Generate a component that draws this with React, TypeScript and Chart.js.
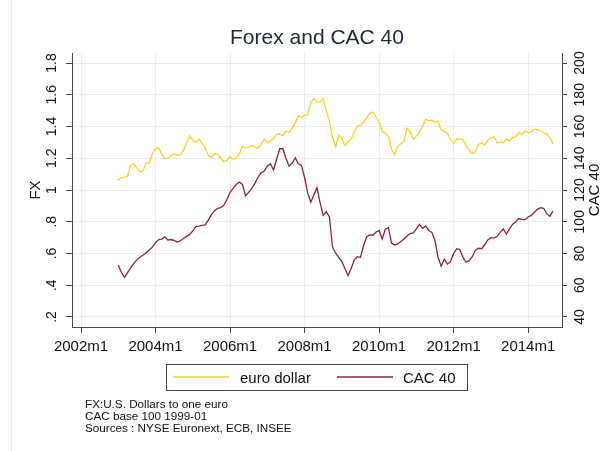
import React, { useEffect, useRef } from "react";
import { Chart, registerables } from "chart.js";

Chart.register(...registerables);

// Months are counted from 2002m1 (= 0). Data starts 2003m1.
const startMonth = 12;

const fxValues = [
  1.0622, 1.0773, 1.0807, 1.0848, 1.1582, 1.1663, 1.1372, 1.1139, 1.1222, 1.1692, 1.1702, 1.2286,
  1.2613, 1.2646, 1.2262, 1.1985, 1.2007, 1.2138, 1.2266, 1.2176, 1.2218, 1.249, 1.2991, 1.3408,
  1.3119, 1.3014, 1.3201, 1.2938, 1.2694, 1.2165, 1.2037, 1.2292, 1.2256, 1.2015, 1.1786, 1.1856,
  1.2103, 1.1938, 1.202, 1.2271, 1.277, 1.265, 1.2684, 1.2811, 1.2727, 1.2611, 1.2881, 1.3213,
  1.2999, 1.3074, 1.3242, 1.3516, 1.3511, 1.3419, 1.3716, 1.3622, 1.3896, 1.4227, 1.4684, 1.457,
  1.4718, 1.4748, 1.5527, 1.5751, 1.5557, 1.5553, 1.577, 1.4975, 1.437, 1.3322, 1.2732, 1.3449,
  1.3239, 1.2785, 1.305, 1.319, 1.365, 1.4016, 1.4088, 1.4268, 1.4562, 1.4816, 1.4914, 1.4614,
  1.4272, 1.3686, 1.3569, 1.3406, 1.2565, 1.2209, 1.277, 1.2894, 1.3067, 1.3898, 1.3661, 1.322,
  1.336, 1.3649, 1.3999, 1.4442, 1.4349, 1.4388, 1.4264, 1.4343, 1.377, 1.3706, 1.3556, 1.3179,
  1.2905, 1.3224, 1.3201, 1.3162, 1.2789, 1.2526, 1.2288, 1.24, 1.2856, 1.2974, 1.2828, 1.3119,
  1.3288, 1.3359, 1.2964, 1.3026, 1.2982, 1.3189, 1.308, 1.331, 1.3348, 1.3635, 1.3493, 1.3704,
  1.361, 1.3659, 1.3823, 1.3813, 1.3732, 1.3592, 1.3539, 1.3316, 1.2901,
];

const cacValues = [
  72.8, 68, 65, 68, 71, 73.8, 76, 77.7, 79, 80.5, 82.3, 84,
  86.8, 88.8, 89.1, 90.5, 88.5, 88.8, 88.3, 87.2, 88, 89.5, 90.8, 92,
  94.3, 97, 97.3, 97.7, 98, 101, 104.5, 107, 108.5, 108.9, 110.3, 114,
  118.5, 121, 123.5, 125, 123.5, 116.4, 118.5, 121, 124.2, 128, 130.8, 132,
  135, 136.5, 132.6, 139.5, 146, 146, 140, 135, 137, 140.3, 136.5, 135.4,
  128, 118, 112.3, 117, 121.5, 112, 104, 106.4, 103, 84, 80.2, 77.5,
  75, 70.5, 66, 70.5, 76, 78, 77.6, 85, 90.6, 91.7, 91.5, 93.5,
  94.5, 89.2, 95.3, 96.3, 86.5, 85.4, 86, 87.5, 89.2, 91, 92.5, 93,
  95.5, 98.4, 95.8, 97.3, 94.5, 93.3, 88, 77.5, 72, 76.5, 73.3, 74.9,
  80, 83, 82.5, 77.5, 74.5, 75.5, 78, 82, 83.3, 83, 85.5, 88.5,
  90, 89.7, 90.8, 93.3, 95.5, 92.3, 95.5, 98.5, 100, 102, 101.5, 101.3,
  103, 104, 106, 107.8, 108.8, 108.5, 105, 103.5, 106.8,
];

const xTickValues = [0, 24, 48, 72, 96, 120, 144];
const xTickLabels = ["2002m1", "2004m1", "2006m1", "2008m1", "2010m1", "2012m1", "2014m1"];
const fxTickValues = [0.2, 0.4, 0.6, 0.8, 1, 1.2, 1.4, 1.6, 1.8];
const fxTickLabels = [".2", ".4", ".6", ".8", "1", "1.2", "1.4", "1.6", "1.8"];
const cacTickValues = [40, 60, 80, 100, 120, 140, 160, 180, 200];
const cacTickLabels = ["40", "60", "80", "100", "120", "140", "160", "180", "200"];

const titleText = "Forex and CAC 40";
const legendLabels = ["euro dollar", "CAC 40"];
const noteLines = ["FX:U.S. Dollars to one euro", "CAC base 100 1999-01", "Sources : NYSE Euronext, ECB, INSEE"];

const FONT = '"Liberation Sans", Arial, sans-serif';
const YELLOW = "#FFD21A";
const MAROON = "#8E2436";
const GRID = "#E8EFF1";
const AXIS = "#4a4a4a";

export default function App() {
  const ref = useRef<HTMLCanvasElement>(null);

  useEffect(() => {
    const canvas = ref.current;
    if (!canvas) return;

    const decor = {
      id: "decor",
      beforeDraw(chart: any) {
        const ctx = chart.ctx as CanvasRenderingContext2D;
        ctx.save();
        ctx.fillStyle = "#ebebeb";
        ctx.fillRect(11, 0, 1, chart.height);
        ctx.restore();
      },
      afterDraw(chart: any) {
        const ctx = chart.ctx as CanvasRenderingContext2D;
        const yS = chart.scales.y;
        const y1S = chart.scales.y1;
        const area = chart.chartArea;
        ctx.save();
        ctx.fillStyle = "#111";
        ctx.textAlign = "center";
        ctx.textBaseline = "middle";
        ctx.font = `14px ${FONT}`;
        const rot = (text: string, x: number, y: number) => {
          ctx.save();
          ctx.translate(x, y);
          ctx.rotate(-Math.PI / 2);
          ctx.fillText(text, 0, 0);
          ctx.restore();
        };
        fxTickValues.forEach((v, i) => rot(fxTickLabels[i], 52.5, yS.getPixelForValue(v)));
        cacTickValues.forEach((v, i) => rot(cacTickLabels[i], 580.5, y1S.getPixelForValue(v)));
        ctx.font = `15px ${FONT}`;
        const midY = (area.top + area.bottom) / 2;
        rot("FX", 35.5, midY);
        rot("CAC 40", 595, midY);

        // title
        ctx.fillStyle = "#1e2a3a";
        ctx.font = `21px ${FONT}`;
        ctx.fillText(titleText, (area.left + area.right) / 2, 38);

        // legend
        ctx.strokeStyle = AXIS;
        ctx.lineWidth = 1;
        ctx.strokeRect(166.5, 364.5, 301, 26);
        ctx.lineWidth = 1.3;
        ctx.strokeStyle = YELLOW;
        ctx.beginPath();
        ctx.moveTo(173, 377);
        ctx.lineTo(229, 377);
        ctx.stroke();
        ctx.strokeStyle = MAROON;
        ctx.beginPath();
        ctx.moveTo(337, 377);
        ctx.lineTo(393, 377);
        ctx.stroke();
        ctx.fillStyle = "#111";
        ctx.font = `15px ${FONT}`;
        ctx.textAlign = "left";
        ctx.textBaseline = "alphabetic";
        ctx.fillText(legendLabels[0], 240, 383);
        ctx.fillText(legendLabels[1], 403, 383);

        // notes
        ctx.font = `11.7px ${FONT}`;
        noteLines.forEach((t, i) => ctx.fillText(t, 85, 407.8 + i * 12.3));
        ctx.restore();
      },
    };

    const chart = new Chart(canvas, {
      type: "line",
      data: {
        datasets: [
          {
            label: legendLabels[0],
            data: fxValues.map((v, i) => ({ x: startMonth + i, y: v })),
            borderColor: YELLOW,
            borderWidth: 1.3,
            pointRadius: 0,
            tension: 0,
            yAxisID: "y",
            order: 2,
          },
          {
            label: legendLabels[1],
            data: cacValues.map((v, i) => ({ x: startMonth + i, y: v })),
            borderColor: MAROON,
            borderWidth: 1.3,
            pointRadius: 0,
            tension: 0,
            yAxisID: "y1",
            order: 1,
          },
        ],
      },
      options: {
        animation: false,
        responsive: false,
        devicePixelRatio: 1,
        layout: { padding: { top: 53, bottom: 84, left: 0, right: 0 } },
        plugins: { legend: { display: false }, title: { display: false }, tooltip: { enabled: false } },
        scales: {
          x: {
            type: "linear",
            min: -2.9,
            max: 154.9,
            afterBuildTicks: (s: any) => {
              s.ticks = xTickValues.map((v) => ({ value: v }));
            },
            afterFit: (s: any) => {
              s.height = 40;
            },
            ticks: {
              autoSkip: false,
              maxRotation: 0,
              minRotation: 0,
              padding: 5,
              color: "#111",
              font: { family: FONT, size: 15 },
              callback: (v: any) => xTickLabels[xTickValues.indexOf(Number(v))] ?? "",
            },
            grid: { color: GRID, lineWidth: 1, drawTicks: true, tickLength: 6, tickColor: AXIS },
            border: { display: true, color: AXIS, width: 1 },
          },
          y: {
            type: "linear",
            position: "left",
            min: 0.137,
            max: 1.863,
            afterBuildTicks: (s: any) => {
              s.ticks = fxTickValues.map((v) => ({ value: v }));
            },
            afterFit: (s: any) => {
              s.width = 72;
            },
            ticks: { display: false },
            grid: { color: GRID, lineWidth: 1, drawTicks: true, tickLength: 6, tickColor: AXIS },
            border: { display: true, color: AXIS, width: 1 },
          },
          y1: {
            type: "linear",
            position: "right",
            min: 33.7,
            max: 206.3,
            afterBuildTicks: (s: any) => {
              s.ticks = cacTickValues.map((v) => ({ value: v }));
            },
            afterFit: (s: any) => {
              s.width = 47;
            },
            ticks: { display: false },
            grid: { drawOnChartArea: false, drawTicks: true, tickLength: 5, tickColor: AXIS, lineWidth: 1 },
            border: { display: true, color: AXIS, width: 1 },
          },
        },
      },
      plugins: [decor],
    });

    return () => chart.destroy();
  }, []);

  return (
    <div style={{ position: "fixed", left: 0, top: 0, width: 609, height: 451, background: "#fff" }}>
      <canvas ref={ref} width={609} height={451} style={{ width: 609, height: 451, display: "block" }} />
    </div>
  );
}
